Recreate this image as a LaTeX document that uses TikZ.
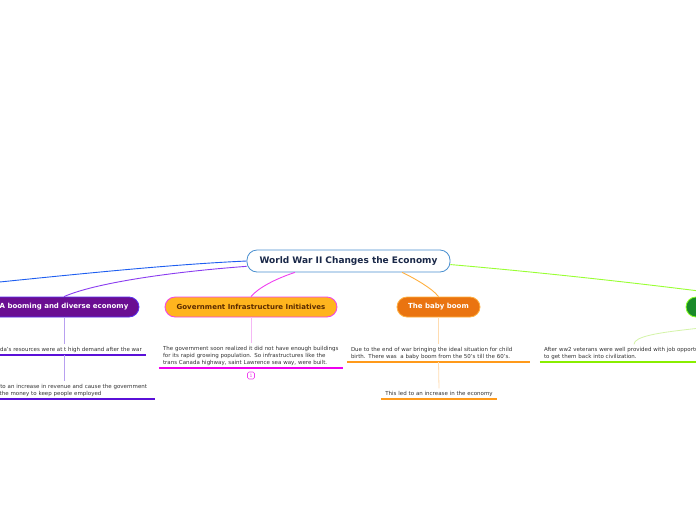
\documentclass[tikz,border=0pt]{standalone}
\usepackage{fontspec}
\setmainfont{DejaVu Sans}
\definecolor{rootblue}{HTML}{4A90D0}
\definecolor{navy}{HTML}{1A2848}
\definecolor{cblue}{HTML}{1E5EF0}
\definecolor{cviolet}{HTML}{8A3CF0}
\definecolor{pfill}{HTML}{6A0E92}
\definecolor{pborder}{HTML}{5A30F0}
\definecolor{pvert}{HTML}{B8A0F0}
\definecolor{punder}{HTML}{5A10D8}
\definecolor{gfill}{HTML}{FFB41E}
\definecolor{mag}{HTML}{F040F0}
\definecolor{gtext}{HTML}{5A2A00}
\definecolor{gvert}{HTML}{F5B8F5}
\definecolor{gunder}{HTML}{EE00EE}
\definecolor{bfill}{HTML}{EA7410}
\definecolor{bborder}{HTML}{FFB040}
\definecolor{bvert}{HTML}{FFDCB0}
\definecolor{bunder}{HTML}{FF9A1A}
\definecolor{grfill}{HTML}{1A8A2A}
\definecolor{grborder}{HTML}{88FF22}
\definecolor{grline}{HTML}{99FF33}
\definecolor{grleaf}{HTML}{D4F4A8}
\definecolor{grunder}{HTML}{88EE00}
\definecolor{leaftext}{HTML}{333333}
\tikzset{
  rootnode/.style={draw=rootblue, fill=white, rounded corners=10pt, minimum width=203pt, minimum height=22pt, line width=0.8pt, font=\fontsize{9}{10}\selectfont\bfseries, text=navy, inner sep=0pt},
  topic/.style={rounded corners=10pt, minimum height=20pt, line width=0.8pt, font=\fontsize{7}{8}\selectfont\bfseries, inner sep=0pt},
  leaf/.style={inner xsep=4pt, inner ysep=2.5pt, align=left, font=\fontsize{5.5}{7}\selectfont, text=leaftext, anchor=south},
  conn/.style={line width=0.9pt},
  vert/.style={line width=0.8pt},
  under/.style={line width=1.3pt}
}
\begin{document}
\begin{tikzpicture}[x=1pt,y=-1pt]
\clip (0,0) rectangle (696,520);
\fill[white] (0,0) rectangle (696,520);

\node[rootnode] (root) at (348.5,261) {World War II Changes the Economy};

\node[topic, fill=pfill, draw=pborder, text=white, minimum width=150pt] (purple) at (64,307) {A booming and diverse economy};
\node[topic, fill=gfill, draw=mag, text=gtext, minimum width=172pt] (gov) at (251,307) {Government Infrastructure Initiatives};
\node[topic, fill=bfill, draw=bborder, text=white, minimum width=83pt] (baby) at (438.5,307) {The baby boom};
\node[topic, fill=grfill, draw=grborder, text=white, minimum width=110pt] (green) at (741,307) {Job opportunities};
\coordinate (offleft) at (-40,286);

% connectors from root
\draw[conn, cblue] (root.west) .. controls (160,265) and (60,276) .. (offleft);
\draw[conn, cviolet] (root.183) .. controls (170,272) and (95,283) .. (purple.north);
\draw[conn, mag] (root.192) .. controls (275,279) and (258,288) .. (gov.north);
\draw[conn, bborder] (root.348) .. controls (412,277) and (432,288) .. (baby.north);
\draw[conn, grline] (root.358) .. controls (560,274) and (680,288) .. (green.north);

% purple leaves
\node[leaf, anchor=south east] (p1) at (146,355) {Canada's resources were at t high demand after the war};
\draw[under, punder] (p1.south west) -- (p1.south east);
\node[leaf, text width=174pt] (p2) at (64,399) {This led to an increase in revenue and cause the government\\to have the money to keep people employed};
\draw[under, punder] (p2.south west) -- (p2.south east);
\draw[vert, pvert] (purple.south) -- (purple.south |- p1.north);
\draw[vert, pvert] (purple.south |- p1.south) -- (p2.north);

% gov leaf
\node[leaf, text width=176pt] (g1) at (251,368) {The government soon realized it did not have enough buildings\\for its rapid growing population. So infrastructures like the\\trans Canada highway, saint Lawrence sea way, were built.};
\draw[under, gunder] (g1.south west) -- (g1.south east);
\draw[vert, gvert] (gov.south) -- (g1.north);
\node[draw=mag, rounded corners=1.5pt, line width=0.6pt, minimum width=7pt, minimum height=7pt, inner sep=0pt, text=mag, font=\fontsize{4.5}{4.5}\selectfont] (badge) at (251,375.5) {1};

% baby boom leaves
\node[leaf, text width=175pt] (b1) at (438.5,362) {Due to the end of war bringing the ideal situation for child\\birth. There was\ \ a baby boom from the 50's till the 60's.};
\draw[under, bunder] (b1.south west) -- (b1.south east);
\node[leaf, text width=108pt, align=center] (b2) at (439,399) {This led to an increase in the economy};
\draw[under, bunder] (b2.south west) -- (b2.south east);
\draw[vert, bvert] (baby.south) -- (b1.north);
\draw[vert, bvert] (b1.south) -- (b2.north);

% green leaf
\node[leaf, text width=180pt] (gr1) at (634,362) {After ww2 veterans were well provided with job opportunities\\to get them back into civilization.};
\draw[under, grunder] (gr1.south west) -- (gr1.south east);
\draw[vert, grleaf] (green.south) .. controls (741,330) and (634,328) .. (gr1.north);
\end{tikzpicture}
\end{document}
